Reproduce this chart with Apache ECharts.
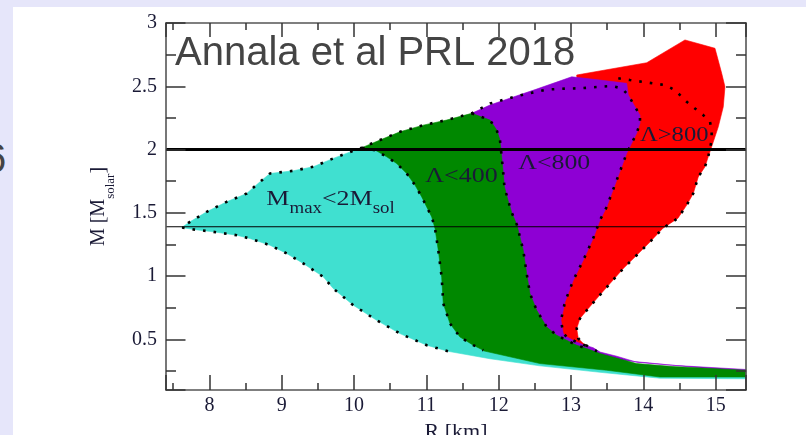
<!DOCTYPE html>
<html><head><meta charset="utf-8">
<script src="https://cdn.jsdelivr.net/npm/echarts@6/dist/echarts.min.js"></script>
<style>
html,body{margin:0;padding:0;width:806px;height:435px;overflow:hidden;background:#e6e6fa;position:relative}
#frame{position:absolute;left:13px;top:7px;width:793px;height:428px;background:#fff}
#chart{width:793px;height:428px}
#edge{position:absolute;left:-16px;top:138px;font:40px/40px 'Liberation Sans',sans-serif;color:#444}
</style></head><body>
<div id="edge">6</div>
<div id="frame"><div id="chart"></div></div>
<script>
// ---- axis ranges ----
const xRange = [7.4, 15.42];
const yRange = [0.1, 3.0];
// ---- reference mass lines ----
const refLevels = [2.0, 1.39];

// ---- region boundaries [R km, M Msun] ----
const tip = [7.617, 1.384];
const cyanUpper = [[7.732,1.429],[7.963,1.508],[8.239,1.587],[8.516,1.653],[8.700,1.745],[8.838,1.811],[9.160,1.832],[9.437,1.864],[9.713,1.930],[10.037,2.001]];
const cyanLower = [[7.777,1.369],[8.054,1.350],[8.378,1.323],[8.561,1.297],[8.838,1.244],[9.069,1.179],[9.298,1.100],[9.575,0.994],[9.713,0.902],[9.990,0.770],[10.313,0.651],[10.635,0.546],[11.005,0.454],[11.299,0.406]];
const cyanBottom = [[11.880,0.347],[12.571,0.291],[13.401,0.240],[14.230,0.193],[15.42,0.189]];
const cyanInner = [[10.165,2.004],[10.635,1.996],[11.327,1.600],[11.465,0.809],[12.156,0.454],[13.401,0.319],[15.42,0.224]];

const greenTop = [[10.110,2.015],[10.359,2.075],[10.635,2.140],[10.958,2.193],[11.281,2.233],[11.627,2.286]];
const greenLeft = [[10.110,2.015],[10.304,1.992],[10.452,1.943],[10.590,1.890],[10.728,1.811],[10.843,1.719],[10.936,1.626],[11.005,1.547],[11.074,1.468],[11.119,1.379],[11.165,1.205],[11.212,0.991],[11.234,0.783],[11.327,0.625],[11.465,0.519],[11.649,0.454],[11.787,0.414]];
const greenRight = [[11.880,2.233],[11.973,2.154],[12.018,2.075],[12.042,1.943],[12.064,1.811],[12.080,1.705],[12.129,1.600],[12.184,1.497],[12.253,1.403],[12.340,1.205],[12.387,1.021],[12.433,0.862],[12.526,0.730],[12.664,0.598],[12.802,0.533],[12.940,0.493],[13.079,0.454],[13.217,0.427]];
const greenStripTop = [[13.401,0.388],[13.908,0.309],[14.410,0.285],[15.42,0.256]];
const greenBottom = [[11.787,0.410],[12.571,0.309],[13.494,0.256],[14.230,0.203],[15.42,0.203]];

const purpleTopFill = [[11.880,2.352],[12.202,2.415],[12.526,2.478],[12.802,2.533],[13.010,2.575],[13.401,2.549],[13.770,2.523]];
const purpleTopDots = [[11.880,2.363],[12.202,2.415],[12.433,2.446],[12.664,2.474],[12.940,2.482],[13.124,2.484],[13.401,2.496],[13.563,2.502],[13.701,2.484]];
const purpleRed = [[13.792,2.431],[13.885,2.338],[13.954,2.272],[13.954,2.209],[13.908,2.128],[13.839,2.049],[13.770,1.970],[13.701,1.864],[13.632,1.758],[13.563,1.653],[13.494,1.547],[13.401,1.442],[13.308,1.300],[13.170,1.126],[13.032,0.968],[12.917,0.796],[12.862,0.651],[12.893,0.546],[12.940,0.521],[13.055,0.485],[13.170,0.458],[13.308,0.434]];
const purpleStrip = [[13.401,0.400],[13.632,0.367],[13.908,0.320],[14.410,0.295],[15.42,0.262]];
const purpleInner = [[15.42,0.240],[13.401,0.351],[12.848,0.454],[12.295,0.809],[12.018,1.600],[11.880,2.154]];

const redTop = [[13.079,2.589],[14.047,2.686],[14.576,2.866],[14.829,2.826],[14.991,2.800],[15.084,2.602],[15.129,2.496],[15.106,2.338],[15.037,2.180],[14.945,2.022]];
const redDotsTop = [[13.654,2.563],[13.816,2.549],[13.977,2.536],[14.138,2.523],[14.300,2.510],[14.438,2.470],[14.600,2.378],[14.714,2.325],[14.829,2.272],[14.922,2.219],[14.945,2.154],[14.945,2.075]];
const redRight = [[14.898,1.943],[14.853,1.864],[14.760,1.784],[14.691,1.653],[14.600,1.561],[14.479,1.458],[14.272,1.379],[14.092,1.270],[13.908,1.165],[13.723,1.060],[13.539,0.941],[13.377,0.836],[13.239,0.744],[13.124,0.665],[13.079,0.586],[13.101,0.507],[13.170,0.467],[13.263,0.435],[13.359,0.406]];
const redInner = [[13.263,0.367],[12.848,0.469],[12.502,0.809],[12.226,1.600],[12.087,1.996],[12.571,2.431],[13.083,2.549]];

// ---- in-plot labels ----
const labelPos = [[9.675,1.606],[11.486,1.784],[12.768,1.890],[14.427,2.110]];
const labelText = ['M{s|max}<2M{s|sol}','Λ<400','Λ<800','Λ>800'];

// ---- styling ----
const labelScale = [1.18, 1.3, 1.29, 1.23];
const serif = "'Liberation Serif','Times New Roman',serif";
const ink = '#1a1a36';
const COL = {red:'#ff0000', purple:'#8e00d4', cyan:'#40e0d0', green:'#008800'};

const lastGT = greenTop[greenTop.length-1];
const redPoly = redTop.concat(redRight, redInner);
const purplePoly = [lastGT].concat(purpleTopFill, purpleRed, purpleStrip, purpleInner);
const cyanPoly = [tip].concat(cyanUpper, cyanInner, cyanBottom.slice().reverse(), cyanLower.slice().reverse());
const greenPoly = greenTop.concat(greenRight, greenStripTop, greenBottom.slice().reverse(), greenLeft.slice(1).reverse());

const dotEnvelope = cyanLower.slice().reverse().concat([tip], cyanUpper, greenTop, purpleTopDots, purpleRed);
const dotGreenLeft = greenLeft;
const dotGreenRight = [lastGT].concat(greenRight);
const dotRed = redDotsTop.concat(redRight);

function polySeries(pts, color) {
  return {
    type: 'custom', coordinateSystem: 'cartesian2d', silent: true, z: 2,
    data: [pts[0]],
    renderItem: function (params, api) {
      return { type: 'polygon', shape: { points: pts.map(p => api.coord(p)) },
        style: { fill: color, stroke: color, lineWidth: 0.6 } };
    }
  };
}
function dotSeries(pts) {
  return { type: 'line', data: pts, symbol: 'none', silent: true, z: 3,
    lineStyle: { color: '#000', width: 2.6, type: [2.6, 8], cap: 'butt' } };
}
function refSeries(level, w) {
  return { type: 'line', data: [[xRange[0], level], [xRange[1], level]], symbol: 'none', silent: true, z: 4,
    lineStyle: { color: '#000', width: w, type: 'solid' } };
}

const tickStyle = { color: '#333', width: 1.5 };
const lineStyleAx = { color: '#555', width: 1.6 };
function xFmt(v) { return Math.abs(v - Math.round(v)) < 1e-6 ? String(Math.round(v)) : ''; }
function yFmt(v) { return Math.abs(v * 2 - Math.round(v * 2)) < 1e-6 ? String(+v.toFixed(1)) : ''; }

const chart = echarts.init(document.getElementById('chart'), null, { renderer: 'canvas' });
chart.setOption({
  animation: false,
  backgroundColor: '#fff',
  grid: { left: 153, right: 60, top: 16, bottom: 45, containLabel: false, outerBoundsMode: 'none' },
  xAxis: [
    { type: 'value', min: xRange[0], max: xRange[1], splitNumber: 8, position: 'bottom', z: 10,
      axisLine: { show: true, lineStyle: lineStyleAx },
      axisTick: { show: true, inside: true, length: 15, lineStyle: tickStyle },
      minorTick: { show: true, splitNumber: 2, length: 7, lineStyle: tickStyle },
      axisLabel: { formatter: xFmt, fontFamily: serif, fontSize: 20, color: ink, margin: 6 },
      splitLine: { show: false }, minorSplitLine: { show: false },
      name: 'R [km]', nameLocation: 'middle', nameGap: 26,
      nameTextStyle: { fontFamily: serif, fontSize: 22, color: ink } },
    { type: 'value', min: xRange[0], max: xRange[1], splitNumber: 8, position: 'top', z: 10,
      axisLine: { show: true, lineStyle: lineStyleAx },
      axisTick: { show: true, inside: true, length: 14, lineStyle: tickStyle },
      minorTick: { show: true, splitNumber: 2, length: 7, lineStyle: tickStyle },
      axisLabel: { show: false }, splitLine: { show: false } }
  ],
  yAxis: [
    { type: 'value', min: yRange[0], max: yRange[1], splitNumber: 6, position: 'left', z: 10,
      axisLine: { show: true, lineStyle: lineStyleAx },
      axisTick: { show: true, inside: true, length: 19.5, lineStyle: tickStyle },
      minorTick: { show: true, splitNumber: 2, length: 10, lineStyle: tickStyle },
      axisLabel: { formatter: yFmt, fontFamily: serif, fontSize: 20, color: ink, margin: 9 },
      splitLine: { show: false }, minorSplitLine: { show: false },
      name: 'M [M{s|solar}]', nameLocation: 'middle', nameGap: 49,
      nameTextStyle: { fontFamily: serif, fontSize: 20, color: ink, lineHeight: 36,
        rich: { s: { fontFamily: serif, fontSize: 13, lineHeight: 13, verticalAlign: 'bottom', color: ink } } } },
    { type: 'value', min: yRange[0], max: yRange[1], splitNumber: 6, position: 'right', z: 10,
      axisLine: { show: true, lineStyle: lineStyleAx },
      axisTick: { show: true, inside: true, length: 20, lineStyle: tickStyle },
      minorTick: { show: true, splitNumber: 2, length: 10, lineStyle: tickStyle },
      axisLabel: { show: false }, splitLine: { show: false } }
  ],
  graphic: [{
    type: 'text', left: 162, top: 27, z: 100,
    style: { text: 'Annala et al PRL 2018', fontFamily: "'Liberation Sans',Arial,sans-serif", fontSize: 40, fill: '#444' }
  }],
  series: [
    polySeries(redPoly, COL.red),
    polySeries(purplePoly, COL.purple),
    polySeries(cyanPoly, COL.cyan),
    polySeries(greenPoly, COL.green),
    dotSeries(dotEnvelope),
    dotSeries(dotGreenLeft),
    dotSeries(dotGreenRight),
    dotSeries(dotRed),
    refSeries(refLevels[0], 3),
    refSeries(refLevels[1], 1.2),
    {
      type: 'custom', coordinateSystem: 'cartesian2d', silent: true, z: 5,
      data: labelPos,
      renderItem: function (params, api) {
        const i = params.dataIndex;
        const c = api.coord([api.value(0), api.value(1)]);
        const isM = i === 0;
        return { type: 'text', x: c[0], y: c[1], scaleX: labelScale[i],
          style: { text: labelText[i], fill: ink, fontFamily: serif, fontSize: isM ? 22 : 20,
            lineHeight: isM ? 34 : 22, align: 'center', verticalAlign: 'middle',
            rich: { s: { fontFamily: serif, fontSize: 16, lineHeight: 16, verticalAlign: 'bottom', fill: ink } } } };
      }
    }
  ]
});
</script></body></html>
